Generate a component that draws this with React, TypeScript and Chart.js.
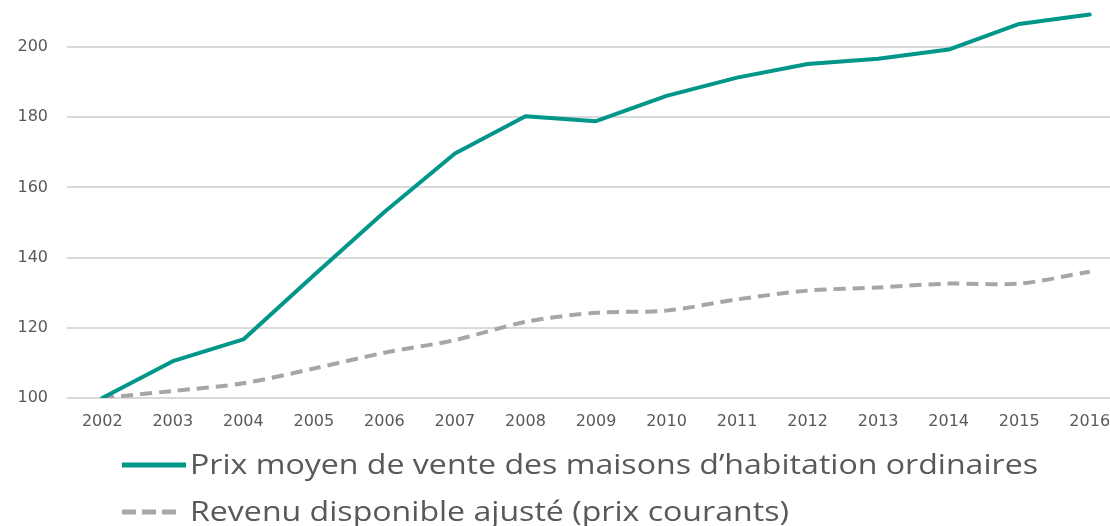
import React, { useEffect, useRef } from "react";
import { Chart, registerables } from "chart.js";

Chart.register(...registerables);

const years = ["2002","2003","2004","2005","2006","2007","2008","2009","2010","2011","2012","2013","2014","2015","2016"];
const prixMaisons = [100, 110.5, 116.7, 135, 153, 169.7, 180.3, 178.9, 186.1, 191.3, 195.2, 196.7, 199.3, 206.6, 209.3];
const revenuDisponible = [100, 102, 104.2, 108.4, 112.9, 116.5, 121.7, 124.3, 124.9, 128.1, 130.6, 131.5, 132.6, 132.6, 136];
const yTicks = [100, 120, 140, 160, 180, 200];
const labelPrix = "Prix moyen de vente des maisons d\u2019habitation ordinaires";
const labelRevenu = "Revenu disponible ajust\u00e9 (prix courants)";

const TEAL = "#00968a";
const GRAY = "#a6a6a6";
const TEXT = "#595959";

const legendPlugin = {
  id: "stackedLegend",
  afterDraw(chart: any) {
    const ctx = chart.ctx;
    const rows = [
      { y: 465, x1: 122, x2: 186 },
      { y: 512, x1: 122, x2: 181 },
    ];
    ctx.save();
    ctx.font = "28px 'Open Sans'";
    const target = 848;
    const w0 = ctx.measureText(chart.data.datasets[0].label).width;
    const sx = target / w0;
    chart.data.datasets.forEach((ds: any, i: number) => {
      const r = rows[i];
      ctx.save();
      ctx.strokeStyle = ds.borderColor;
      ctx.lineWidth = 5;
      ctx.setLineDash(i === 1 ? [14, 6] : []);
      ctx.beginPath();
      ctx.moveTo(r.x1, r.y);
      ctx.lineTo(r.x2, r.y);
      ctx.stroke();
      ctx.restore();
      ctx.save();
      ctx.translate(190, r.y);
      ctx.scale(sx, 1);
      ctx.fillStyle = TEXT;
      ctx.textBaseline = "middle";
      ctx.textAlign = "left";
      ctx.fillText(ds.label, 0, 1);
      ctx.restore();
    });
    ctx.restore();
  },
};

export default function App() {
  const ref = useRef<HTMLCanvasElement | null>(null);
  useEffect(() => {
    document.body.style.margin = "0";
    const canvas = ref.current!;
    const chart = new Chart(canvas, {
      type: "line",
      data: {
        labels: years,
        datasets: [
          {
            label: labelPrix,
            data: prixMaisons,
            borderColor: TEAL,
            backgroundColor: TEAL,
            borderWidth: 4,
            pointRadius: 0,
            tension: 0,
            borderJoinStyle: "round",
            borderCapStyle: "round",
          },
          {
            label: labelRevenu,
            data: revenuDisponible,
            borderColor: GRAY,
            backgroundColor: GRAY,
            borderWidth: 4,
            borderDash: [12, 7],
            pointRadius: 0,
            tension: 0.3,
          },
        ],
      },
      options: {
        responsive: false,
        animation: false,
        layout: { padding: { top: 5, bottom: 98, left: 0, right: 0 } },
        plugins: { legend: { display: false }, tooltip: { enabled: false } },
        scales: {
          x: {
            offset: true,
            grid: { display: false },
            border: { display: false },
            ticks: {
              color: TEXT,
              font: { family: "'DejaVu Sans'", size: 16 },
              padding: 6,
              maxRotation: 0,
              autoSkip: false,
            },
            afterFit: (s: any) => { s.height = 30; },
          },
          y: {
            min: 100,
            max: 212,
            grid: { color: "#d9d9d9", lineWidth: 2, drawTicks: false },
            border: { display: false },
            ticks: {
              color: TEXT,
              font: { family: "'DejaVu Sans'", size: 16 },
              padding: 19,
            },
            afterBuildTicks: (s: any) => { s.ticks = yTicks.map((v) => ({ value: v })); },
            afterFit: (s: any) => { s.width = 67; s.paddingTop = 0; s.paddingBottom = 0; },
          },
        },
      },
      plugins: [legendPlugin],
    });
    return () => chart.destroy();
  }, []);
  return (
    <div style={{ width: 1110, height: 526, overflow: "hidden", background: "#fff" }}>
      <canvas ref={ref} width={1125} height={526} style={{ width: 1125, height: 526, display: "block" }} />
    </div>
  );
}
